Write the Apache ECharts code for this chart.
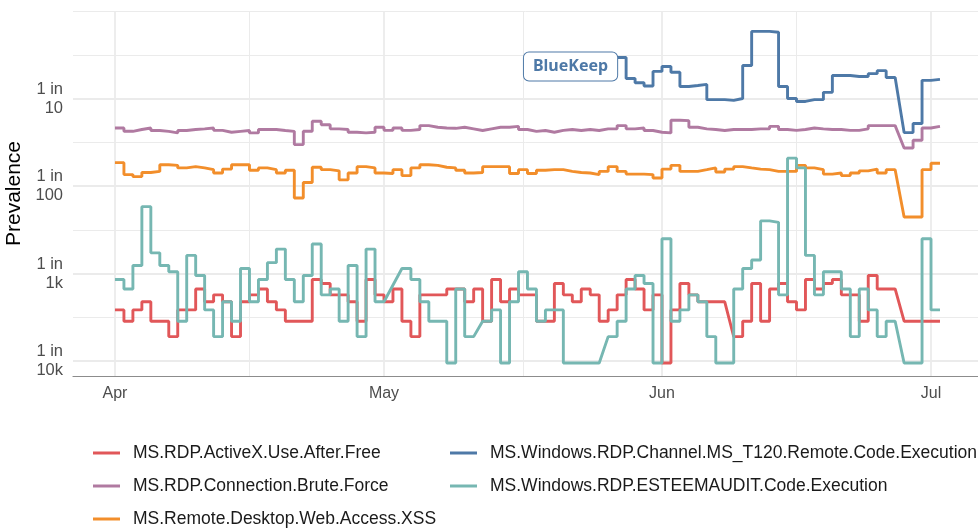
<!DOCTYPE html>
<html>
<head>
<meta charset="utf-8">
<script src="https://cdn.jsdelivr.net/npm/echarts@6/dist/echarts.min.js"></script>
<style>
  html, body { margin: 0; padding: 0; background: #fff; }
  #chart { width: 978px; height: 529px; }
</style>
</head>
<body>
<div id="chart"></div>
<script>
// daily series, first day = Apr 1 2019, values are "1 in N"
const startDate = [2019, 3, 1];
const monthTicks = ["2019-04-01", "2019-05-01", "2019-06-01", "2019-07-01"];
const midMonthTicks = ["2019-04-16", "2019-05-16T12:00", "2019-06-16"];
const yMajorTicks = [10, 100, 1000, 10000];

const activeX = [
  2600, 3500, 2600, 2100, 3500, 3500, 5250, 2600, 2600, 1500,
  2100, 1750, 2100, 5250, 2100, 1750, 1500, 2100, 2600, 3500,
  3500, 3500, 1170, 1300, 1750, 1750, 2100, 3500, 1170, 1750,
  2100, 1500, 3500, 5250, 1750, 1750, 1750, 1500, 1500, 2100,
  1500, 3500, 1170, 2100, 1500, 1750, 1750, 3500, 3500, 1300,
  1750, 2100, 1500, 1750, 3500, 2600, 1750, 1170, 1500, 2600,
  1750, 10500, 2600, 1300, 1750, 2100, 2100, 2100, null, 5250,
  3500, 1300, 3500, 1500, 1300, 2100, 2600, 1170, 1500, 1300,
  1170, 1750, 1750, 3500, 1050, 1500, 1500, null, 3500, 3500,
  3500, 3500
];
const bruteForce = [
  21.7, 23.7, 22.6, 21.7, 23.2, 23.7, 24.7, 23.2, 22.6, 22.2,
  21.7, 23.1, 24.3, 23.7, 23.2, 24.7, 22.6, 22.6, 23.2, 23.7,
  33.6, 23.7, 18.2, 19.9, 22.2, 22.6, 24.3, 24.7, 24.3, 21.3,
  23.1, 21.7, 23.1, 22.6, 20.4, 21.3, 21.7, 21.9, 21.3, 22.2,
  23.2, 22.2, 21.3, 21.3, 20.8, 22.6, 23.7, 23.2, 24.3, 23.1,
  22.6, 23.2, 22.6, 23.2, 22.2, 22.2, 20.4, 22.2, 21.7, 23.2,
  24.3, 24.7, 17.7, 17.9, 21.3, 22.2, 22.6, 23.2, 22.6, 22.6,
  22.6, 22.2, 22.2, 20.8, 22.6, 23.1, 22.6, 21.7, 22.2, 22.6,
  22.6, 23.1, 23.1, 22.2, 20.4, 20.4, 20.4, null, 36.7, 30.0,
  21.7, 20.8
];
const webXss = [
  54, 74, 78, 70, 68, 57, 58, 62, 60, 62,
  65, 71, 64, 57, 57, 66, 62, 65, 71, 66,
  137, 91, 61, 65, 67, 85, 71, 60, 62, 71,
  72, 65, 76, 62, 57, 58, 61, 62, 66, 71,
  70, 60, 60, 60, 72, 65, 72, 66, 65, 65,
  68, 70, 71, 74, 68, 60, 68, 73, 73, 74,
  81, 64, 58, 68, 68, 65, 62, 69, 64, 60,
  62, 64, 65, 68, 68, 68, 58, 62, 65, 73,
  71, 76, 71, 67, 64, 71, 65, null, 226, 226,
  65, 55
];
// BlueKeep signature only exists from day 56 on
const t120FirstDay = 56;
const t120 = [
  3.4, 5.9, 6.6, 7.2, 4.9, 4.3, 5.0, 7.3, 7.1, 6.9,
  10.3, 10.3, 10.5, 10.0, 4.2, 1.71, 1.71, 1.75, 7.3, 10.0,
  10.8, 10.3, 10.3, 8.5, 5.45, 5.45, 5.6, 5.6, 5.2, 4.8,
  5.75, null, 24.5, 19.3, 6.2, 6.05
];
const esteemAudit = [
  1170, 1500, 810, 172, 580, 810, 955, 3500, 620, 1050,
  2600, 5250, 2100, 3500, 875, 2100, 1170, 750, 525, 1170,
  2100, 1050, 460, 1750, 1500, 3500, 810, 5250, 525, 2100,
  null, null, 875, 1170, 2100, 3500, 3500, 10500, 1500, 5250,
  null, 3500, 2600, 10500, 2100, 955, 1500, 3500, 2600, 2600,
  10500, 10500, 10500, 10500, null, 5250, 3500, 1500, 1050, 1300,
  10500, 400, 3500, 2600, 1750, 2100, 5250, 10500, 10500, 1500,
  875, 700, 250, 260, 1750, 48, 62, 620, 1750, 955,
  955, 1500, 5250, 1500, 2600, 5250, 3500, null, 10500, 10500,
  400, 2600
];

const seriesDefs = [
  { name: "MS.RDP.ActiveX.Use.After.Free", color: "#E15759", values: activeX, first: 0 },
  { name: "MS.RDP.Connection.Brute.Force", color: "#B07AA1", values: bruteForce, first: 0 },
  { name: "MS.Remote.Desktop.Web.Access.XSS", color: "#F28E2B", values: webXss, first: 0 },
  { name: "MS.Windows.RDP.Channel.MS_T120.Remote.Code.Execution", color: "#4E79A7", values: t120, first: t120FirstDay },
  { name: "MS.Windows.RDP.ESTEEMAUDIT.Code.Execution", color: "#76B7B2", values: esteemAudit, first: 0 }
];

const DAY = 86400000;
const dayTime = (i) => new Date(startDate[0], startDate[1], startDate[2]).getTime() + i * DAY;
const toTime = (s) => new Date(s.length > 10 ? s : s + "T00:00").getTime();

// each day is a flat segment from its start to the next day's start
function dayPoints(values, first) {
  const pts = [];
  values.forEach((v, k) => {
    if (v == null) return;
    const i = first + k;
    pts.push([dayTime(i), v], [dayTime(i + 1), v]);
  });
  return pts;
}

const MONTHS = ["Jan", "Feb", "Mar", "Apr", "May", "Jun", "Jul", "Aug", "Sep", "Oct", "Nov", "Dec"];
const FONT = "Liberation Sans, Arial, Helvetica, sans-serif";
const GRID = "#ebebeb";
const xMin = dayTime(-4.68);
const xMax = dayTime(96.24);
const yMin = 1;
const yMax = 14800;

const chart = echarts.init(document.getElementById("chart"));

const series = seriesDefs.map((s) => ({
  name: s.name,
  type: "line",
  data: dayPoints(s.values, s.first),
  showSymbol: false,
  symbol: "none",
  color: s.color,
  lineStyle: { color: s.color, width: 2.9 },
  silent: true
}));

// BlueKeep tag at the start of the T120 line
series[3].markPoint = {
  symbol: "rect",
  symbolSize: 0,
  silent: true,
  data: [{ coord: [dayTime(t120FirstDay), t120[0]] }],
  label: {
    show: true,
    position: "left",
    distance: 0,
    offset: [0, 9],
    formatter: "BlueKeep",
    color: "#4E79A7",
    fontFamily: "Noto Sans, Open Sans, sans-serif",
    fontWeight: "bold",
    fontSize: 16,
    lineHeight: 20,
    backgroundColor: "#fff",
    borderColor: "#4E79A7",
    borderWidth: 1,
    borderRadius: 5,
    padding: [4, 9, 4, 9]
  }
};

const legendBase = {
  orient: "vertical",
  top: 444,
  padding: 0,
  itemWidth: 27,
  itemHeight: 3,
  itemGap: 15,
  icon: "rect",
  selectedMode: false,
  textStyle: { fontFamily: FONT, fontSize: 17.5, color: "#1a1a1a", lineHeight: 18, padding: [0, 0, 0, 8] }
};

chart.setOption({
  animation: false,
  backgroundColor: "#fff",
  textStyle: { fontFamily: FONT },
  grid: { left: 73, right: 0, top: 11, bottom: 153, outerBoundsMode: "none" },
  legend: [
    Object.assign({}, legendBase, { left: 93, data: seriesDefs.slice(0, 3).map((s) => s.name) }),
    Object.assign({}, legendBase, { left: 450, data: seriesDefs.slice(3).map((s) => s.name) })
  ],
  xAxis: [
    {
      type: "value",
      min: xMin,
      max: xMax,
      axisLine: { show: true, onZero: false, lineStyle: { color: "#8c8c8c", width: 1.2 } },
      axisTick: { show: false, customValues: monthTicks.map(toTime) },
      axisLabel: {
        customValues: monthTicks.map(toTime),
        color: "#4d4d4d",
        fontSize: 16,
        margin: 10,
        formatter: (v) => MONTHS[new Date(v).getMonth()]
      },
      splitLine: { show: true, lineStyle: { color: GRID, width: 1.8 } }
    },
    {
      type: "value",
      min: xMin,
      max: xMax,
      axisLine: { show: false },
      axisTick: { show: false, customValues: midMonthTicks.map(toTime) },
      axisLabel: { show: false },
      splitLine: { show: true, lineStyle: { color: GRID, width: 1 } }
    }
  ],
  yAxis: [
    {
      type: "log",
      logBase: 10,
      inverse: true,
      min: yMin,
      max: yMax,
      name: "Prevalence",
      nameLocation: "middle",
      nameRotate: 90,
      nameGap: 41,
      nameTextStyle: { color: "#000", fontSize: 21, fontFamily: FONT },
      axisLine: { show: false },
      axisTick: { show: false, customValues: yMajorTicks },
      axisLabel: {
        customValues: yMajorTicks,
        color: "#4d4d4d",
        fontSize: 16.5,
        lineHeight: 19,
        margin: 10,
        align: "right",
        formatter: (v) => "1 in\n" + (v >= 1000 ? Math.round(v / 1000) + "k" : Math.round(v))
      },
      splitLine: { show: true, lineStyle: { color: GRID, width: 1.8 } }
    },
    {
      type: "log",
      logBase: Math.sqrt(10),
      inverse: true,
      min: yMin,
      max: yMax,
      axisLine: { show: false },
      axisTick: { show: false },
      axisLabel: { show: false },
      splitLine: { show: true, lineStyle: { color: GRID, width: 1 } }
    }
  ],
  series: series
});
</script>
</body>
</html>
